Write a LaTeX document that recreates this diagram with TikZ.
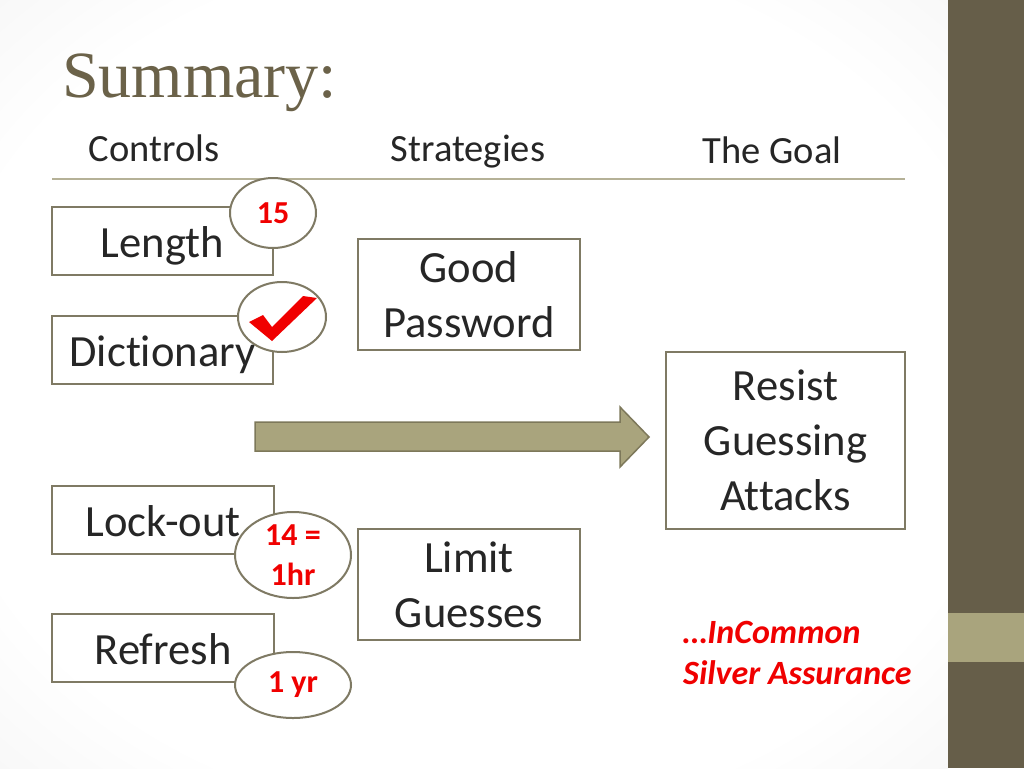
\documentclass[tikz,border=0pt]{standalone}
\usepackage{fontspec}
\setmainfont{Carlito}[Ligatures={NoCommon}]
\newfontfamily\titlefont{Liberation Serif}
\usetikzlibrary{shapes.geometric}
\definecolor{barbrown}{HTML}{665E49}
\definecolor{bandtan}{HTML}{A9A47D}
\definecolor{titlecol}{HTML}{6B6249}
\definecolor{edgecol}{HTML}{7F7A64}
\definecolor{arrowedge}{HTML}{7D785A}
\definecolor{rulecol}{HTML}{B5B197}
\definecolor{txtcol}{HTML}{262626}
\definecolor{redtxt}{HTML}{F00000}
\pgfdeclareradialshading{bgshade}{\pgfpoint{0bp}{0bp}}{color(0bp)=(white); color(28bp)=(white); color(50bp)=(black!8); color(72bp)=(black!17)}
\tikzset{
  cbox/.style={draw=edgecol, line width=2pt, inner sep=0pt, text=txtcol, align=center,
    font=\fontsize{44.6}{55}\selectfont},
  onebox/.style={cbox, text height=37pt, text depth=5pt},
  oval/.style={ellipse, draw=edgecol, line width=2pt, fill=white, inner sep=0pt, text=redtxt,
    align=center, font=\bfseries\fontsize{32}{40}\selectfont},
  header/.style={anchor=base, inner sep=0pt, text=txtcol, font=\fontsize{38.5}{46}\selectfont},
  redline/.style={anchor=base west, inner sep=0pt, text=redtxt, font=\bfseries\itshape\fontsize{34}{40}\selectfont}
}
\begin{document}
\begin{tikzpicture}[x=1pt,y=-1pt]
\useasboundingbox (0,0) rectangle (1024,768);
\shade[shading=bgshade] (0,0) rectangle (948,768);
\fill[barbrown] (948,0) rectangle (1024,768);
\fill[bandtan] (948,613) rectangle (1024,662);

\node[anchor=base west, inner sep=0pt, text=titlecol, font=\titlefont\fontsize{66}{70}\selectfont] (title) at (62,97) {Summary:};

\node[header] (hcontrols) at (154,161) {Controls};
\node[header] (hstrat) at (468,161) {Strategies};
\node[header] (hgoal) at (772,163) {The Goal};
\draw[rulecol, line width=1.2pt] (52,179) -- (905,179);

\node[onebox, minimum width=221, minimum height=68] (length) at (162.5,241) {Length};
\node[onebox, minimum width=221, minimum height=68] (dict) at (162.5,350) {Dictionary};
\node[onebox, minimum width=222, minimum height=68] (lockout) at (163,520) {Lock-out};
\node[onebox, minimum width=222, minimum height=68] (refresh) at (163,648) {Refresh};
\node[cbox, minimum width=222, minimum height=111] (goodpw) at (469,294.5) {Good\\Password};
\node[cbox, minimum width=222, minimum height=111] (limit) at (469,584.5) {Limit\\Guesses};
\node[cbox, minimum width=239, minimum height=177] (resist) at (785.5,440.5) {Resist\\Guessing\\Attacks};

\fill[bandtan, draw=arrowedge, line width=1.5pt] (255,422) -- (620,422) -- (620,407) -- (649,437) -- (620,467) -- (620,451) -- (255,451) -- cycle;

\node[oval, minimum width=86, minimum height=70] (o15) at (273,213) {15};
\node[oval, minimum width=88, minimum height=70] (ocheck) at (282,317) {};
\fill[redtxt] (249,322) -- (263,315) -- (272,327) -- (303,296) -- (317,298) -- (272,341) -- cycle;
\node[oval, minimum width=116, minimum height=86] (o14) at (293,555) {14 =\\1hr};
\node[oval, minimum width=116, minimum height=66] (o1yr) at (293,685) {1 yr};

\node[redline] (incommon) at (683,643) {…InCommon};
\node[redline] (silver) at (683,684) {Silver Assurance};
\end{tikzpicture}
\end{document}
